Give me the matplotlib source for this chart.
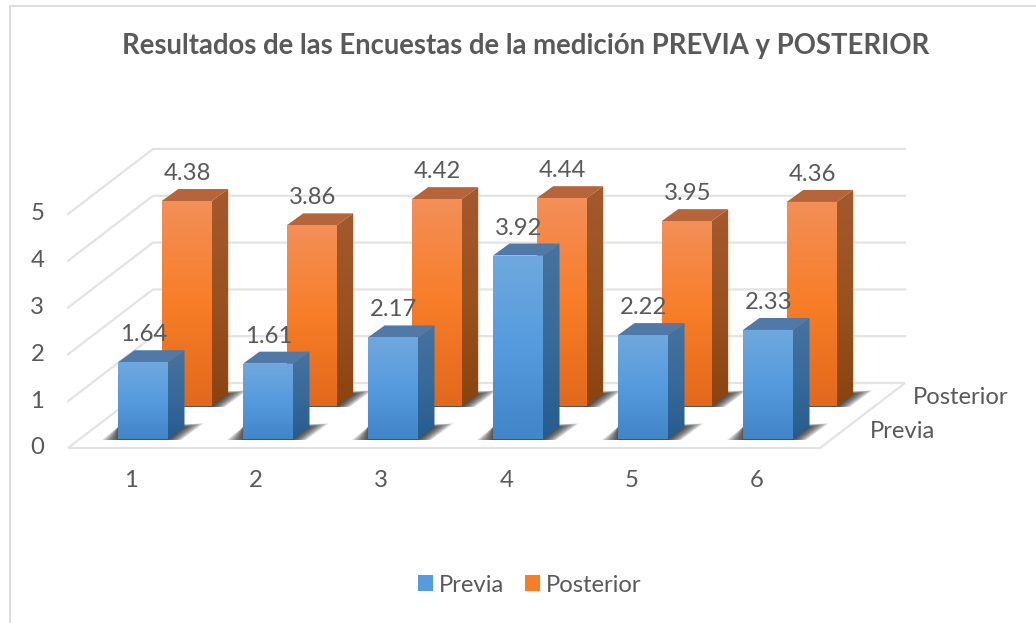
import numpy as np
import matplotlib
matplotlib.use("Agg")
import matplotlib.pyplot as plt
from matplotlib.colors import LinearSegmentedColormap
from matplotlib.patches import Polygon
from matplotlib.transforms import ScaledTranslation

plt.rcParams['font.family'] = ['Lato', 'DejaVu Sans']

categories = [1, 2, 3, 4, 5, 6]
previa = [1.64, 1.61, 2.17, 3.92, 2.22, 2.33]
posterior = [4.38, 3.86, 4.42, 4.44, 3.95, 4.36]
y_ticks = [0, 1, 2, 3, 4, 5]
title = "Resultados de las Encuestas de la medición PREVIA y POSTERIOR"
TXT = "#595959"
GRID = "#E3E3E3"
FS = 17.2

W, H = 1036, 623
fig = plt.figure(figsize=(W / 100, H / 100), dpi=100, facecolor="white")
# axes frame = front wall of the 3D box, in pixels
L, R, Y0, PX_U = 68, 820, 448, 46.8
ax = fig.add_axes([L / W, 1 - Y0 / H, (R - L) / W, 5 * PX_U / H])
PX_X = 125.0
ax.set_xlim(1 + (L - 131.2) / PX_X, 1 + (R - 131.2) / PX_X)
ax.set_ylim(0, 5)
for s in ax.spines.values():
    s.set_visible(False)
ax.patch.set_alpha(0)

def dxp(p):
    return p / PX_X

def dyp(p):
    return p / PX_U

XL, XR = ax.get_xlim()

# walls and floor
DX, DY = dxp(85), dyp(65)
for v in y_ticks[1:]:
    ax.plot([XL, XL + DX, XR + DX], [v, v + DY, v + DY], color=GRID, lw=1.6, clip_on=False, zorder=1)
ax.add_patch(Polygon([(XL, 0), (XR, 0), (XR + DX, DY), (XL + DX, DY)], closed=True,
                     facecolor="white", edgecolor=GRID, lw=1.6, clip_on=False, zorder=1.5))

BLUE = dict(front=["#6FA8DE", "#559BDD", "#4285C8"], side=["#47729F", "#386A9A", "#275C8E"], top="#5079A8")
ORANGE = dict(front=["#F38F58", "#F87D27", "#E2691C"], side=["#A5592D", "#9A5220", "#8A440F"], top="#B56539")
BW, DEPTH_X, DEPTH_Y = 50 / PX_X, dxp(16.5), dyp(12)

def draw_series(vals, off_px, pal, label, z):
    x = np.array(categories, float) + dxp(off_px[0])
    base = dyp(off_px[1])
    bars = ax.bar(x, vals, width=BW, bottom=base, color=pal["front"][1], label=label,
                  zorder=z + 0.4, clip_on=False, linewidth=0)
    for xc, v in zip(x, vals):
        x0, x1 = xc - BW / 2, xc + BW / 2
        t = base + v
        # soft floor shadow
        for e in np.linspace(1, 0.05, 9):
            ax.add_patch(Polygon([(x0 - dxp(16) * e, base - dyp(1)), (x1 + dxp(13) * e, base - dyp(1)),
                                  (x1 + DEPTH_X + dxp(19) * e, base + DEPTH_Y * (1 + 0.3 * e)),
                                  (x0, base + DEPTH_Y)], closed=True, facecolor="#1A1A1A",
                                 alpha=0.14, edgecolor="none", zorder=z, clip_on=False))
        front = np.array([(x0, base), (x1, base), (x1, t), (x0, t)])
        side = np.array([(x1, base), (x1 + DEPTH_X, base + DEPTH_Y), (x1 + DEPTH_X, t + DEPTH_Y), (x1, t)])
        top = np.array([(x0, t), (x1, t), (x1 + DEPTH_X, t + DEPTH_Y), (x0 + DEPTH_X, t + DEPTH_Y)])
        ax.add_patch(Polygon(top, closed=True, facecolor=pal["top"], edgecolor="none", zorder=z + 0.5, clip_on=False))
        for poly, stops in ((front, pal["front"]), (side, pal["side"])):
            xs, ys = poly[:, 0], poly[:, 1]
            cmap = LinearSegmentedColormap.from_list("g", stops)
            im = ax.imshow(np.linspace(0, 1, 128)[:, None], cmap=cmap, aspect="auto", origin="upper",
                           extent=(xs.min(), xs.max(), ys.min(), ys.max()), zorder=z + 0.6,
                           interpolation="bilinear")
            # images are otherwise cut at the axes box
            im.set_clip_box(fig.bbox)
            im.set_clip_path(Polygon(poly, closed=True, transform=ax.transData))
        ax.text(xc + dxp(1), t + dyp(27.5), f"{v:.2f}", ha="center", va="center", fontsize=FS,
                color=TXT, zorder=10, clip_on=False)
    return bars

draw_series(posterior, (55.5, 42), ORANGE, "Posterior", 3)
draw_series(previa, (11.8, 9), BLUE, "Previa", 5)

ax.set_xlim(XL, XR)
ax.set_ylim(0, 5)

ax.set_xticks(categories)
ax.set_xticklabels([str(c) for c in categories])
ax.set_yticks(y_ticks)
ax.tick_params(axis="both", length=0, labelsize=FS, labelcolor=TXT)
ax.tick_params(axis="x", pad=16)
ax.tick_params(axis="y", pad=17)
up = ScaledTranslation(0, 2 / 100, fig.dpi_scale_trans)
for lab in ax.get_yticklabels():
    lab.set_transform(lab.get_transform() + up)

# depth-axis labels
ax.text(1 + (870 - 131.2) / PX_X, dyp(Y0 - 431), "Previa", fontsize=FS, color=TXT, ha="left", va="center", clip_on=False, zorder=10)
ax.text(1 + (913 - 131.2) / PX_X, dyp(Y0 - 398), "Posterior", fontsize=FS, color=TXT, ha="left", va="center", clip_on=False, zorder=10)

fig.text(526 / W, 1 - 46 / H, title, fontsize=19.8, fontweight="bold", color=TXT, ha="center", va="center")

handles, labels = ax.get_legend_handles_labels()
order = [labels.index("Previa"), labels.index("Posterior")]
leg = fig.legend([handles[i] for i in order], [labels[i] for i in order], loc="center",
                 bbox_to_anchor=(530 / W, 1 - 585 / H), ncols=2, frameon=False, fontsize=FS,
                 labelcolor=TXT, handlelength=0.62, handleheight=0.62, handletextpad=0.25, columnspacing=0.87)

# chart-area border: left and top edges
fig.add_artist(plt.Line2D([9.5 / W, 9.5 / W, 1], [0, 1 - 6 / H, 1 - 6 / H], color="#DEDEDE", lw=1.4))

fig.savefig("out.png", dpi=100)
